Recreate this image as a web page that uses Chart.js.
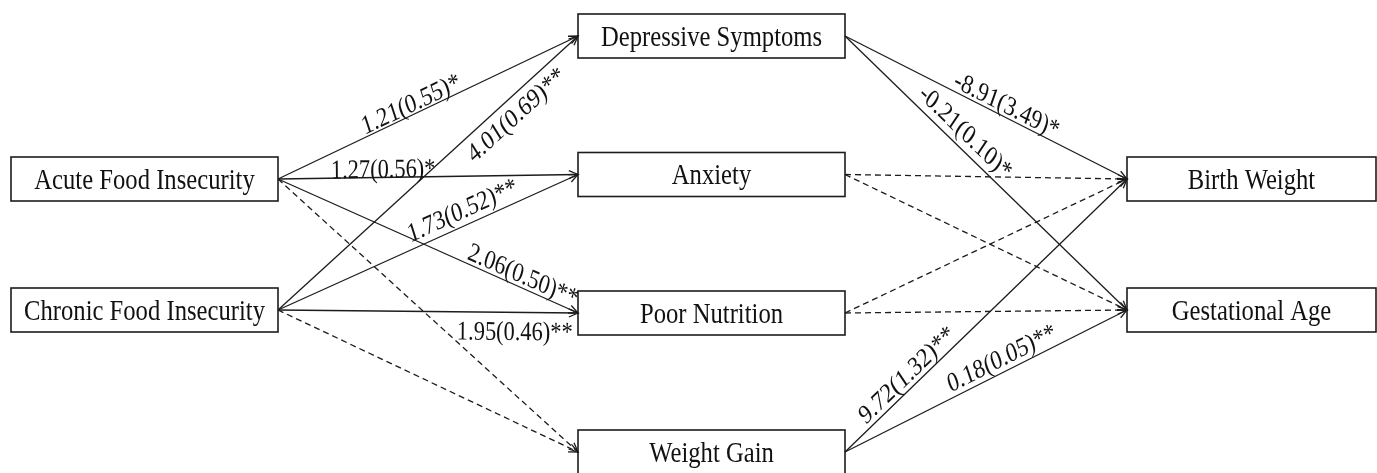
<!DOCTYPE html>
<html>
<head>
<meta charset="utf-8">
<script src="https://cdn.jsdelivr.net/npm/chart.js@4.4.0/dist/chart.umd.min.js"></script>
<style>
  html, body { margin: 0; padding: 0; background: #fff; }
  #wrap { width: 1377px; height: 473px; }
</style>
</head>
<body>
<div id="wrap"><canvas id="c" width="1377" height="473"></canvas></div>
<script>
// variables in the model
const nodes = [
  'Acute Food Insecurity', 'Chronic Food Insecurity',
  'Depressive Symptoms', 'Anxiety', 'Poor Nutrition', 'Weight Gain',
  'Birth Weight', 'Gestational Age'
];

// paths: index into nodes, estimate (SE) label, significant or not
const pathFrom = [0, 0, 0, 0, 1, 1, 1, 1, 2, 2, 3, 3, 4, 4, 5, 5];
const pathTo   = [2, 3, 4, 5, 2, 3, 4, 5, 6, 7, 6, 7, 6, 7, 6, 7];
const pathLabels = [
  '1.21(0.55)*', '1.27(0.56)*', '2.06(0.50)**', '',
  '4.01(0.69)**', '1.73(0.52)**', '1.95(0.46)**', '',
  '-8.91(3.49)*', '-0.21(0.10)*', '', '', '', '',
  '9.72(1.32)**', '0.18(0.05)**'
];
const pathSignificant = [true, true, true, false, true, true, true, false,
                         true, true, false, false, false, false, true, true];

// layout of the boxes (diagram units = pixels of the 1377x473 frame)
const boxLeft  = [11, 11, 578, 578, 578, 578, 1127, 1127];
const boxRight = [278, 278, 845, 845, 845, 845, 1376, 1376];
const boxMid   = [179, 310, 36, 174.5, 313, 452, 179, 310];
const boxHalf  = 22;

// where each coefficient sits along its path (fraction, offset from line)
const labelT = [0.458, 0.351, 0.80, 0, 0.757, 0.635, 0.79, 0, 0.555, 0.39, 0, 0, 0, 0, 0.25, 0.577];
const labelD = [11.5, 9, 13, 0, -15.5, 16, -18.5, 0, 12.5, 16, 0, 0, 0, 0, 13.5, 14.5];

const ink = '#1c1c1c';
const serif = '"Liberation Serif", "Times New Roman", serif';

const datasets = pathFrom.map((f, i) => ({
  data: [
    { x: boxRight[f], y: boxMid[f] },
    { x: boxLeft[pathTo[i]], y: boxMid[pathTo[i]] }
  ],
  showLine: true,
  borderColor: ink,
  borderWidth: 1.3,
  borderDash: pathSignificant[i] ? [] : [6, 4],
  pointRadius: 0,
  tension: 0,
  fill: false
}));

const diagramPlugin = {
  id: 'diagram',
  afterDatasetsDraw(chart) {
    const ctx = chart.ctx;
    const xs = chart.scales.x, ys = chart.scales.y;
    ctx.save();

    // arrowheads
    ctx.strokeStyle = ink;
    ctx.lineWidth = 1.3;
    ctx.setLineDash([]);
    pathFrom.forEach((f, i) => {
      const t = pathTo[i];
      const x0 = xs.getPixelForValue(boxRight[f]), y0 = ys.getPixelForValue(boxMid[f]);
      const x1 = xs.getPixelForValue(boxLeft[t]), y1 = ys.getPixelForValue(boxMid[t]);
      const a = Math.atan2(y1 - y0, x1 - x0);
      const len = 10, spread = 0.42;
      ctx.beginPath();
      ctx.moveTo(x1 - len * Math.cos(a - spread), y1 - len * Math.sin(a - spread));
      ctx.lineTo(x1, y1);
      ctx.lineTo(x1 - len * Math.cos(a + spread), y1 - len * Math.sin(a + spread));
      ctx.stroke();
    });

    // boxes and their names
    ctx.lineWidth = 1.6;
    nodes.forEach((name, k) => {
      const l = xs.getPixelForValue(boxLeft[k]), r = xs.getPixelForValue(boxRight[k]);
      const top = ys.getPixelForValue(boxMid[k] - boxHalf), bot = ys.getPixelForValue(boxMid[k] + boxHalf);
      ctx.strokeRect(l, top, r - l, bot - top);
      const size = 29;
      ctx.save();
      ctx.translate((l + r) / 2, (top + bot) / 2);
      ctx.scale(0.85, 1);
      ctx.fillStyle = '#111';
      ctx.font = size + 'px ' + serif;
      ctx.textAlign = 'center';
      ctx.textBaseline = 'alphabetic';
      ctx.fillText(name, 0, size * 0.34);
      ctx.restore();
    });

    // coefficient labels, along their paths
    pathLabels.forEach((txt, i) => {
      if (!txt) return;
      const f = pathFrom[i], t = pathTo[i];
      const x0 = xs.getPixelForValue(boxRight[f]), y0 = ys.getPixelForValue(boxMid[f]);
      const x1 = xs.getPixelForValue(boxLeft[t]), y1 = ys.getPixelForValue(boxMid[t]);
      const dx = x1 - x0, dy = y1 - y0;
      const a = Math.atan2(dy, dx);
      const px = x0 + labelT[i] * dx + labelD[i] * Math.sin(a);
      const py = y0 + labelT[i] * dy - labelD[i] * Math.cos(a);
      const sx = 0.83, size = 27;
      ctx.save();
      ctx.translate(px, py);
      ctx.scale(sx, 1);
      ctx.rotate(Math.atan2(dy, dx / sx));
      ctx.fillStyle = '#111';
      ctx.font = size + 'px ' + serif;
      ctx.textAlign = 'center';
      ctx.textBaseline = 'alphabetic';
      ctx.fillText(txt, 0, size * 0.34);
      ctx.restore();
    });

    ctx.restore();
  }
};

new Chart(document.getElementById('c'), {
  type: 'scatter',
  data: { datasets },
  options: {
    responsive: false,
    animation: false,
    devicePixelRatio: 1,
    layout: { padding: 0 },
    scales: {
      x: { type: 'linear', min: 0, max: 1377, display: false },
      y: { type: 'linear', min: 0, max: 473, reverse: true, display: false }
    },
    plugins: {
      legend: { display: false },
      tooltip: { enabled: false }
    }
  },
  plugins: [diagramPlugin]
});
</script>
</body>
</html>
